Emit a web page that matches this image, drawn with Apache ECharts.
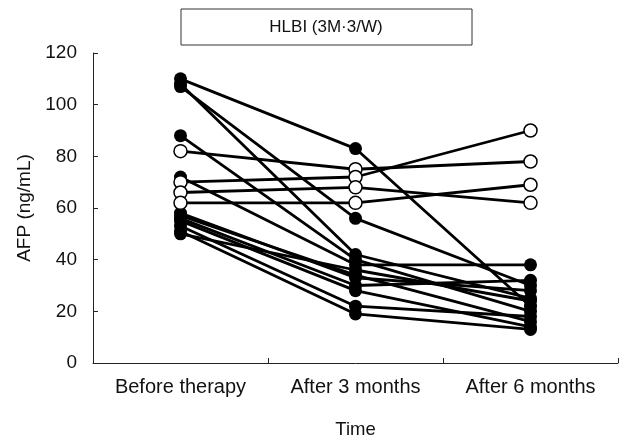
<!DOCTYPE html>
<html>
<head>
<meta charset="utf-8">
<script src="https://cdn.jsdelivr.net/npm/echarts@6/dist/echarts.min.js"></script>
<style>
html, body { margin: 0; padding: 0; background: #fff; }
#main { width: 621px; height: 438px; }
</style>
</head>
<body>
<div id="main"></div>
<script>
// time points
var categories = ['Before therapy', 'After 3 months', 'After 6 months'];
var yTicks = [0, 20, 40, 60, 80, 100, 120];

// filled circles: AFP per patient (before, 3 months, 6 months)
var s1 = [110, 83, 22];
var s2 = [108, 42, 25];
var s3 = [107, 56, 30];
var s4 = [88, 40, 20];
var s5 = [72, 38, 38];
var s6 = [58, 33, 28];
var s7 = [56, 30, 32];
var s8 = [55, 28, 14];
var s9 = [53, 22, 18];
var s10 = [51, 19, 13];
var s11 = [50, 36, 24];
var s12 = [57, 34, 16];
var solid = [s1, s2, s3, s4, s5, s6, s7, s8, s9, s10, s11, s12];

// open circles
var o1 = [82, 75, 78];
var o2 = [70, 72, 90];
var o3 = [66, 68, 62];
var o4 = [62, 62, 69];
var hollow = [o1, o2, o3, o4];

var font = 'Liberation Sans, Arial, sans-serif';
var series = [];
solid.forEach(function (d) {
    series.push({
        type: 'line',
        data: d,
        symbol: 'circle',
        symbolSize: 13,
        lineStyle: { color: '#000', width: 2.8 },
        itemStyle: { color: '#000' },
        z: 2
    });
});
hollow.forEach(function (d) {
    series.push({
        type: 'line',
        data: d,
        symbol: 'circle',
        symbolSize: 13,
        lineStyle: { color: '#000', width: 2.8 },
        itemStyle: { color: '#fff', borderColor: '#000', borderWidth: 1.5 },
        z: 3
    });
});

var myecharts = echarts.init(document.getElementById('main'));
var option = {
    animation: false,
    backgroundColor: '#fff',
    textStyle: { fontFamily: font },
    graphic: [
        {
            type: 'rect',
            shape: { x: 181, y: 9, width: 291, height: 36 },
            style: { fill: '#fff', stroke: '#333', lineWidth: 1 }
        },
        {
            type: 'text',
            x: 326, y: 27,
            style: {
                text: 'HLBI (3M\u00b73/W)',
                font: '17px ' + font,
                fill: '#111',
                align: 'center',
                verticalAlign: 'middle'
            }
        }
    ],
    grid: { left: 93, right: 3, top: 53, bottom: 75, outerBoundsMode: 'none', containLabel: false },
    xAxis: {
        type: 'category',
        data: categories,
        boundaryGap: true,
        name: 'Time',
        nameLocation: 'middle',
        nameGap: 57,
        nameTextStyle: { fontSize: 18.5, color: '#111', fontFamily: font },
        axisLine: { lineStyle: { color: '#222', width: 1 } },
        axisTick: { show: true, inside: true, length: 5, alignWithLabel: false, lineStyle: { color: '#222' } },
        axisLabel: { fontSize: 20, color: '#111', margin: 14, fontFamily: font },
        splitLine: { show: false }
    },
    yAxis: {
        type: 'value',
        min: yTicks[0],
        max: yTicks[yTicks.length - 1],
        interval: yTicks[1] - yTicks[0],
        name: 'AFP (ng/mL)',
        nameLocation: 'middle',
        nameGap: 58,
        nameTextStyle: { fontSize: 19, color: '#111', fontFamily: font },
        axisLine: { show: true, lineStyle: { color: '#222', width: 1 } },
        axisTick: { show: true, inside: true, length: 5, lineStyle: { color: '#222' } },
        axisLabel: { fontSize: 19, color: '#111', margin: 16, fontFamily: font },
        splitLine: { show: false }
    },
    series: series
};
myecharts.setOption(option);
</script>
</body>
</html>
